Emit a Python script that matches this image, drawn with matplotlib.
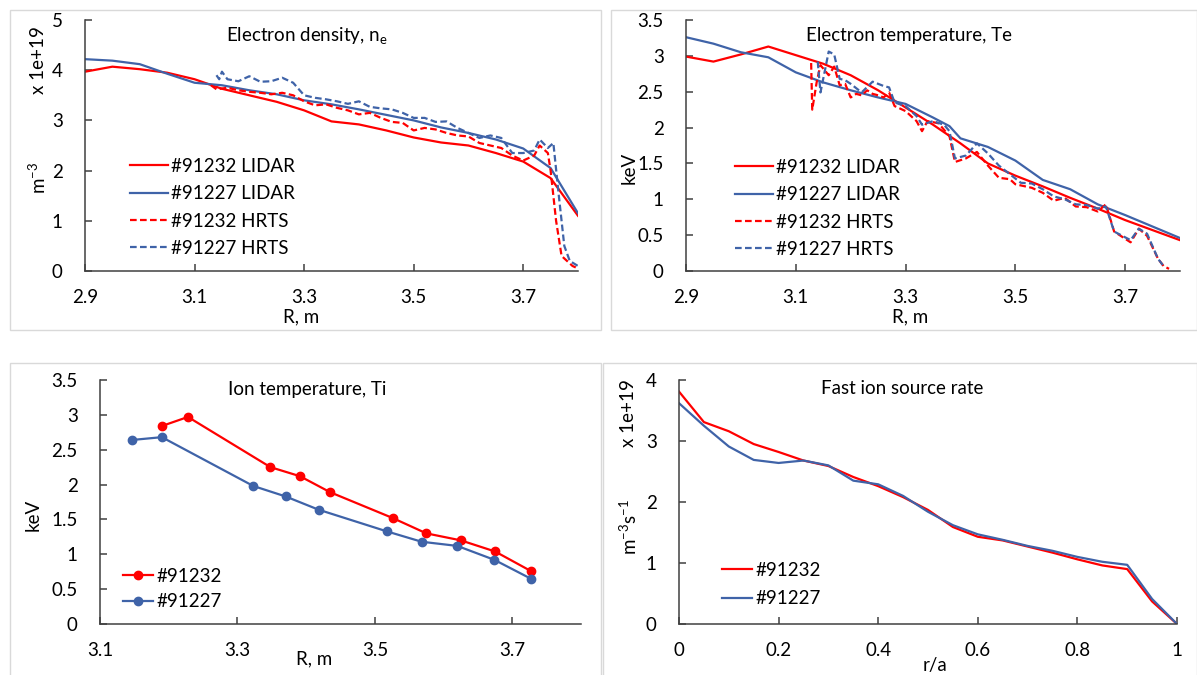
import matplotlib
matplotlib.use("Agg")
import matplotlib.pyplot as plt
from matplotlib.patches import Rectangle

plt.rcParams['font.family'] = ['Lato', 'DejaVu Sans']
plt.rcParams['mathtext.fontset'] = 'custom'
plt.rcParams['mathtext.rm'] = 'Lato'
plt.rcParams['mathtext.default'] = 'regular'

RED = '#FF0000'
BLUE = '#3F63A8'
AXC = '#404040'
FS = 13.5

# ---- electron density (x 1e19 m^-3) ----
ne_lidar_r = [2.9, 2.95, 3.0, 3.05, 3.1, 3.15, 3.2, 3.25, 3.3, 3.35, 3.4, 3.45, 3.5,
              3.55, 3.6, 3.65, 3.7, 3.75, 3.8]
ne_lidar_91232 = [3.97, 4.07, 4.02, 3.95, 3.82, 3.63, 3.5, 3.37, 3.2, 2.98, 2.92, 2.8,
                  2.66, 2.56, 2.5, 2.35, 2.18, 1.85, 1.1]
ne_lidar_91227 = [4.22, 4.19, 4.12, 3.93, 3.75, 3.7, 3.6, 3.52, 3.4, 3.32, 3.22, 3.11,
                  3.0, 2.86, 2.75, 2.62, 2.44, 2.05, 1.15]
ne_hrts_r_91232 = [3.13, 3.14, 3.16, 3.18, 3.2, 3.22, 3.24, 3.26, 3.28, 3.3, 3.32, 3.34,
                   3.36, 3.38, 3.4, 3.42, 3.44, 3.46, 3.48, 3.5, 3.52, 3.54, 3.56, 3.58,
                   3.6, 3.62, 3.64, 3.66, 3.68, 3.7, 3.72, 3.73, 3.745, 3.75, 3.76, 3.77,
                   3.78, 3.79, 3.8]
ne_hrts_91232 = [3.7, 3.62, 3.65, 3.6, 3.57, 3.55, 3.52, 3.55, 3.5, 3.38, 3.3, 3.32,
                 3.25, 3.2, 3.12, 3.15, 3.05, 2.97, 2.95, 2.8, 2.85, 2.82, 2.75, 2.7,
                 2.68, 2.55, 2.5, 2.45, 2.3, 2.2, 2.3, 2.5, 2.35, 2.0, 1.0, 0.3,
                 0.2, 0.1, 0.05]
ne_hrts_r_91227 = [3.14, 3.145, 3.15, 3.16, 3.18, 3.2, 3.22, 3.24, 3.26, 3.28, 3.3, 3.32,
                   3.34, 3.36, 3.38, 3.4, 3.42, 3.44, 3.46, 3.48, 3.5, 3.52, 3.54, 3.56,
                   3.58, 3.6, 3.62, 3.64, 3.66, 3.68, 3.7, 3.72, 3.73, 3.745, 3.755,
                   3.765, 3.775, 3.785, 3.8]
ne_hrts_91227 = [3.9, 3.82, 3.97, 3.82, 3.78, 3.88, 3.77, 3.78, 3.85, 3.75, 3.5, 3.45,
                 3.42, 3.38, 3.33, 3.38, 3.27, 3.24, 3.22, 3.15, 3.05, 3.05, 2.97, 2.98,
                 2.85, 2.75, 2.65, 2.7, 2.65, 2.35, 2.35, 2.4, 2.62, 2.45, 2.55,
                 1.5, 0.5, 0.2, 0.1]

# ---- electron temperature (keV) ----
te_lidar_r = [2.9, 2.95, 3.0, 3.05, 3.1, 3.15, 3.2, 3.25, 3.3, 3.35, 3.4, 3.45, 3.5,
              3.55, 3.6, 3.65, 3.7, 3.75, 3.8]
te_lidar_91232 = [2.99, 2.92, 3.02, 3.13, 3.01, 2.89, 2.73, 2.52, 2.28, 2.04, 1.78, 1.5,
                  1.33, 1.18, 1.02, 0.87, 0.71, 0.57, 0.43]
te_lidar_r_91227 = [2.9, 2.95, 3.0, 3.05, 3.1, 3.15, 3.2, 3.25, 3.3, 3.35, 3.38, 3.4,
                    3.45, 3.5, 3.55, 3.6, 3.65, 3.7, 3.75, 3.8]
te_lidar_91227 = [3.26, 3.17, 3.05, 2.98, 2.77, 2.63, 2.52, 2.42, 2.33, 2.14, 2.02, 1.85,
                  1.73, 1.54, 1.27, 1.14, 0.93, 0.78, 0.62, 0.46]
te_hrts_r_91232 = [3.128, 3.13, 3.138, 3.145, 3.16, 3.17, 3.18, 3.19, 3.2, 3.21, 3.22,
                   3.23, 3.24, 3.25, 3.26, 3.27, 3.28, 3.3, 3.32, 3.33, 3.34, 3.36, 3.38,
                   3.39, 3.41, 3.43, 3.45, 3.47, 3.49, 3.5, 3.53, 3.55, 3.57, 3.59, 3.61,
                   3.63, 3.65, 3.665, 3.68, 3.71, 3.725, 3.74, 3.76, 3.77, 3.78]
te_hrts_91232 = [2.9, 2.25, 2.63, 2.87, 2.73, 2.85, 2.59, 2.61, 2.42, 2.47, 2.45,
                 2.52, 2.47, 2.45, 2.42, 2.49, 2.3, 2.23, 2.09, 1.95, 2.09, 2.06, 1.88,
                 1.52, 1.57, 1.66, 1.47, 1.3, 1.28, 1.21, 1.16, 1.09, 0.98, 1.02, 0.9,
                 0.89, 0.83, 0.93, 0.55, 0.4, 0.59, 0.49, 0.17, 0.07, 0.03]
te_hrts_r_91227 = [3.14, 3.145, 3.16, 3.17, 3.18, 3.19, 3.2, 3.22, 3.24, 3.26, 3.27,
                   3.28, 3.3, 3.32, 3.33, 3.35, 3.37, 3.38, 3.39, 3.41, 3.43, 3.45, 3.47,
                   3.49, 3.51, 3.53, 3.55, 3.57, 3.59, 3.61, 3.63, 3.65, 3.665, 3.68,
                   3.71, 3.725, 3.74, 3.76, 3.77]
te_hrts_91227 = [2.92, 2.49, 3.06, 3.02, 2.68, 2.66, 2.61, 2.49, 2.64, 2.58, 2.56,
                 2.35, 2.3, 2.16, 2.04, 2.09, 2.04, 1.95, 1.57, 1.61, 1.78, 1.64, 1.47,
                 1.35, 1.23, 1.22, 1.14, 1.04, 1.0, 0.93, 0.92, 0.87, 0.9, 0.55,
                 0.43, 0.59, 0.52, 0.17, 0.07]

# ---- ion temperature (keV) ----
ti_r_91232 = [3.19, 3.228, 3.348, 3.391, 3.435, 3.526, 3.575, 3.625, 3.675, 3.727]
ti_91232 = [2.84, 2.97, 2.25, 2.12, 1.89, 1.52, 1.3, 1.2, 1.04, 0.76]
ti_r_91227 = [3.147, 3.19, 3.323, 3.37, 3.418, 3.517, 3.568, 3.62, 3.674, 3.727]
ti_91227 = [2.64, 2.68, 1.98, 1.83, 1.64, 1.33, 1.18, 1.12, 0.92, 0.65]

# ---- fast ion source rate (x 1e19 m^-3 s^-1) ----
rho = [0.0, 0.05, 0.1, 0.15, 0.2, 0.25, 0.3, 0.35, 0.4, 0.45, 0.5, 0.55, 0.6, 0.65,
       0.7, 0.75, 0.8, 0.85, 0.9, 0.95, 1.0]
src_91232 = [3.81, 3.31, 3.16, 2.95, 2.82, 2.68, 2.59, 2.41, 2.26, 2.08, 1.87, 1.59,
             1.43, 1.37, 1.27, 1.17, 1.06, 0.96, 0.9, 0.37, 0.0]
src_91227 = [3.62, 3.25, 2.91, 2.69, 2.64, 2.68, 2.6, 2.35, 2.29, 2.1, 1.84, 1.62,
             1.47, 1.38, 1.28, 1.2, 1.1, 1.02, 0.97, 0.41, 0.0]

W, H = 1197, 675
fig = plt.figure(figsize=(W / 100, H / 100), dpi=100)


def px_axes(x0, y0, x1, y1):
    # axes from pixel box (left, top, right, bottom)
    return fig.add_axes([x0 / W, 1 - y1 / H, (x1 - x0) / W, (y1 - y0) / H])


def panel_box(x0, y0, x1, y1):
    fig.patches.append(Rectangle((x0 / W, 1 - y1 / H), (x1 - x0) / W, (y1 - y0) / H,
                                 transform=fig.transFigure, fill=False,
                                 edgecolor='#D9D9D9', linewidth=1.0))


def style(ax, xlim, ylim, xticks, yticks):
    ax.set_xlim(xlim)
    ax.set_ylim(ylim)
    ax.set_xticks(xticks)
    ax.set_yticks(yticks)
    ax.set_xticklabels(['%g' % v for v in xticks])
    ax.set_yticklabels(['%g' % v for v in yticks])
    for s in ['top', 'right']:
        ax.spines[s].set_visible(False)
    for s in ['left', 'bottom']:
        ax.spines[s].set_color(AXC)
        ax.spines[s].set_linewidth(1.1)
    ax.tick_params(direction='in', length=5, width=1.1, color=AXC,
                   labelsize=FS, labelcolor='black')
    ax.tick_params(axis='x', pad=13)
    ax.tick_params(axis='y', pad=16)
    ax.patch.set_alpha(0)


def add_legend(ax, x, y, hl=2.0, sp=0.55):
    return ax.legend(loc='upper left', bbox_to_anchor=(x / W, 1 - y / H),
                     bbox_transform=fig.transFigure, frameon=False, fontsize=FS,
                     handlelength=hl, handletextpad=0.2, labelspacing=sp,
                     borderpad=0, borderaxespad=0)


panel_box(10, 10, 601, 330)
panel_box(611, 10, 1197, 330)
panel_box(10, 363, 601, 676)
panel_box(603, 363, 1197, 676)

lw = 1.6
dash = (0, (3, 1.5))

# top-left: electron density
ax1 = px_axes(85, 20, 578, 271)
ax1.plot(ne_lidar_r, ne_lidar_91232, color=RED, lw=lw, label='#91232 LIDAR')
ax1.plot(ne_lidar_r, ne_lidar_91227, color=BLUE, lw=lw, label='#91227 LIDAR')
ax1.plot(ne_hrts_r_91232, ne_hrts_91232, color=RED, lw=lw, ls=dash, label='#91232 HRTS')
ax1.plot(ne_hrts_r_91227, ne_hrts_91227, color=BLUE, lw=lw, ls=dash, label='#91227 HRTS')
style(ax1, (2.9, 3.8), (0, 5), [2.9, 3.1, 3.3, 3.5, 3.7], [0, 1, 2, 3, 4, 5])
add_legend(ax1, 130, 158)
fig.text(307 / W, 1 - 36 / H, 'Electron density, n$_{e}$', ha='center', va='center', fontsize=FS)
fig.text(301 / W, 1 - 317 / H, 'R, m', ha='center', va='center', fontsize=FS)
fig.text(38 / W, 1 - 60 / H, 'x 1e+19', ha='center', va='center', rotation=90, fontsize=FS)
fig.text(38 / W, 1 - 178 / H, 'm$^{-3}$', ha='center', va='center', rotation=90, fontsize=FS)

# top-right: electron temperature
ax2 = px_axes(686, 20, 1180, 271)
ax2.plot(te_lidar_r, te_lidar_91232, color=RED, lw=lw, label='#91232 LIDAR')
ax2.plot(te_lidar_r_91227, te_lidar_91227, color=BLUE, lw=lw, label='#91227 LIDAR')
ax2.plot(te_hrts_r_91232, te_hrts_91232, color=RED, lw=lw, ls=dash, label='#91232 HRTS')
ax2.plot(te_hrts_r_91227, te_hrts_91227, color=BLUE, lw=lw, ls=dash, label='#91227 HRTS')
style(ax2, (2.9, 3.8), (0, 3.5), [2.9, 3.1, 3.3, 3.5, 3.7], [0, 0.5, 1, 1.5, 2, 2.5, 3, 3.5])
add_legend(ax2, 735, 159)
fig.text(909 / W, 1 - 36 / H, 'Electron temperature, Te', ha='center', va='center', fontsize=FS)
fig.text(910 / W, 1 - 317 / H, 'R, m', ha='center', va='center', fontsize=FS)
fig.text(629 / W, 1 - 168 / H, 'keV', ha='center', va='center', rotation=90, fontsize=FS)

# bottom-left: ion temperature
ax3 = px_axes(100, 380, 581, 624)
ax3.plot(ti_r_91232, ti_91232, color=RED, lw=lw, marker='o', ms=6, label='#91232')
ax3.plot(ti_r_91227, ti_91227, color=BLUE, lw=lw, marker='o', ms=6, label='#91227')
style(ax3, (3.1, 3.8), (0, 3.5), [3.1, 3.3, 3.5, 3.7], [0, 0.5, 1, 1.5, 2, 2.5, 3, 3.5])
add_legend(ax3, 123, 568, hl=1.6, sp=0.45)
fig.text(307 / W, 1 - 389 / H, 'Ion temperature, Ti', ha='center', va='center', fontsize=FS)
fig.text(314 / W, 1 - 659 / H, 'R, m', ha='center', va='center', fontsize=FS)
fig.text(33 / W, 1 - 515 / H, 'keV', ha='center', va='center', rotation=90, fontsize=FS)

# bottom-right: fast ion source rate
ax4 = px_axes(679, 380, 1177, 624)
ax4.plot(rho, src_91232, color=RED, lw=lw, label='#91232')
ax4.plot(rho, src_91227, color=BLUE, lw=lw, label='#91227')
style(ax4, (0, 1), (0, 4), [0, 0.2, 0.4, 0.6, 0.8, 1], [0, 1, 2, 3, 4])
add_legend(ax4, 722, 562, hl=1.6, sp=0.6)
fig.text(902 / W, 1 - 389 / H, 'Fast ion source rate', ha='center', va='center', fontsize=FS)
fig.text(935 / W, 1 - 665 / H, 'r/a', ha='center', va='center', fontsize=FS)
fig.text(629 / W, 1 - 413 / H, 'x 1e+19', ha='center', va='center', rotation=90, fontsize=FS)
fig.text(629 / W, 1 - 527 / H, 'm$^{-3}$s$^{-1}$', ha='center', va='center', rotation=90, fontsize=FS)

fig.savefig('out.png', dpi=100)
